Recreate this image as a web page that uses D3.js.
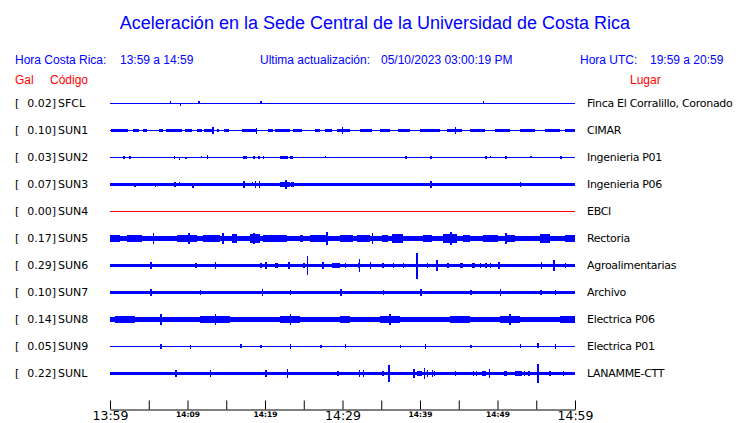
<!DOCTYPE html>
<html><head><meta charset="utf-8">
<script src="https://cdn.jsdelivr.net/npm/d3@7"></script>
<style>body{margin:0;background:#fff}svg{display:block}</style>
</head><body><svg id="c" width="740" height="423"></svg>
<script>
// ---------- data ----------
const codes = ["SFCL","SUN1","SUN2","SUN3","SUN4","SUN5","SUN6","SUN7","SUN8","SUN9","SUNL"];
const galValues = [0.02,0.10,0.03,0.07,0.00,0.17,0.29,0.10,0.14,0.05,0.22];
const places = ["Finca El Corralillo, Coronado","CIMAR","Ingenieria P01","Ingenieria P06","EBCI","Rectoria","Agroalimentarias","Archivo","Electrica P06","Electrica P01","LANAMME-CTT"];
// background noise half-amplitude of each trace (relative units)
const baseAmp = [0,0,0,1.5,0,2.5,1.5,1,2.5,0,1.5];
// bursts: [startMinute, endMinute, halfAmplitude]
const bursts = [
  [],
  [[0.1,2.3,1],[3.0,3.7,1],[4.3,4.8,1],[6.3,6.8,1],[7.2,9.3,1],[9.7,10.6,1],[11.2,11.9,1],[12.1,13.3,1],[13.8,14.1,1],[14.7,15.4,1],[17.0,19.0,1],[20.4,21.0,1],[21.3,23.2,1],[23.6,24.8,1],[26.5,27.1,1],[27.7,28.7,1],[29.3,31.0,1],[32.3,33.8,1],[34.8,36.1,1],[37.2,38.7,1],[40.0,42.6,1],[43.5,45.4,1.5],[46.5,48.4,1],[49.7,51.6,1],[52.9,54.8,1],[56.1,58.1,1],[58.7,60,1]],
  [[1.7,1.9,1],[8.3,8.4,1],[17.2,17.7,1],[18.5,18.7,1],[19.1,19.4,1],[21.9,23.0,1],[23.2,23.6,1]],
  [[21.9,23.2,2.5],[23.4,23.8,2]],
  [],
  [[0,1.3,3.5],[2.2,4.1,3.5],[8.6,11.2,3.5],[12.0,14.2,3.5],[15.7,16.4,4],[18.1,19.4,4],[19.7,22.8,3.5],[24.5,24.9,3.5],[25.8,28.0,3.5],[29.7,31.4,3.5],[31.9,33.5,3.5],[35.1,35.9,3.5],[36.4,37.8,4],[40.4,41.5,3.5],[43.0,44.8,4],[45.5,46.5,3.5],[48.1,50.1,3.5],[51.0,52.3,3.5],[55.5,56.8,4],[58.7,60,3.5]],
  [[19.4,19.6,2],[21.3,21.7,2],[24.9,25.2,2],[28.6,29.7,2],[32.0,32.3,2.5],[45.2,45.5,2],[46.7,47.1,2]],
  [],
  [[0.6,3.2,3.5],[11.6,15.5,3.5],[21.9,24.5,3.5],[29.7,31.0,3.5],[34.8,37.4,3.5],[43.9,46.5,3.5],[50.3,52.9,3.5],[58.1,60,3.5]],
  [],
  [[39.6,40.3,2.5],[50.9,51.2,2],[52.2,53.2,2.5],[53.9,54.2,2.5],[56.7,56.9,2.5],[58.4,58.6,2]]
];
// spikes: [minute, up, down]
const spikes = [
  [[7.7,2,0],[9.0,0,2],[11.4,2,0],[19.4,2,0],[48.1,2,0]],
  [[13.2,3,3],[18.8,2,3],[29.9,3,3],[44.5,3,3]],
  [[2.5,1,1],[8.9,0,1.5],[9.7,0,1],[11.7,1,0],[12.5,1.5,1],[19.7,1,1],[27.7,1,0],[38.1,1,1],[41.3,1,1],[48.4,1,1],[49.0,1,0],[51.0,1,1],[54.2,1,0],[58.1,1,1]],
  [[3.1,1,2],[5.8,0,2],[8.3,2,2],[8.9,2,1],[10.6,0,2.5],[17.2,2.5,2.5],[18.3,2,1],[18.7,2.5,2.5],[19.2,2.5,2.5],[22.6,4,4],[41.3,2.5,2.5],[52.9,2,2]],
  [],
  [[5.5,4.5,4.5],[10.1,5,5],[18.5,5,5],[27.9,5.5,5.5],[43.9,5.5,5.5],[14.5,4.5,4.5],[33.8,4.5,4.5],[51.0,4.5,4.5]],
  [[5.2,2.5,2.5],[11.0,2,2],[13.5,2.5,2.5],[20.0,2.5,2.5],[23.0,3,3],[25.4,9,9],[27.4,3,3],[30.3,2,2],[32.1,6,6],[33.5,2.5,2.5],[35.1,2,2],[36.5,2,2],[37.8,2,2],[39.5,12,12.5],[40.9,2,2],[42.1,5,5],[43.5,2,2],[47.7,2,2],[48.4,2,2],[49.0,2,2],[50.1,2.5,2.5],[55.6,3,3],[57.2,5,5],[58.7,2,2]],
  [[5.2,2.5,2.5],[11.6,2,2],[19.6,2.5,2.5],[23.2,2,2],[29.7,2.5,2.5],[35.2,2,2],[40.0,2.5,2.5],[46.5,2,2],[50.3,2.5,2.5],[55.5,2,2],[57.4,2,2]],
  [[6.5,4.5,4.5],[13.5,4.5,4.5],[23.2,4.5,4.5],[36.0,4.5,4.5],[51.5,4.5,4.5]],
  [[6.5,1.5,1.5],[10.3,1,1.5],[16.8,1.5,1],[19.4,1,1],[23.2,1.5,1.5],[27.1,1,1],[30.3,1.5,1],[37.4,1,1],[40.6,1.5,1.5],[46.5,1,1],[52.9,1.5,1],[55.1,3,1],[57.4,1.5,1.5]],
  [[8.4,2.5,2.5],[12.9,2.5,2.5],[20.0,2.5,2.5],[22.8,4,4],[29.3,2,2],[32.1,3,3],[32.6,2.5,2.5],[35.1,2,2],[35.9,8,8],[39.1,4,4],[40.5,5,5],[40.9,3,3],[41.5,2.5,2.5],[41.8,2,2],[44.5,2,2],[46.8,2,2],[47.2,2,2],[48.0,2,2],[48.3,2,2],[48.9,4,4],[53.4,2,2],[55.1,9,9]]
];
const tickMinutes = [0,5,10,15,20,25,30,35,40,45,50,55,60];
const tickLabels = ["13:59","","14:09","","14:19","","14:29","","14:39","","14:49","","14:59"];
const majorLabels = ["13:59","14:29","14:59"];

// ---------- drawing ----------
const BLUE = "#0000ff", RED = "#ff0000";
const svg = d3.select("#c");
const x = d3.scaleLinear().domain([0,60]).range([110,575]);
const y = d3.scalePoint().domain(codes).range([103,373]);
const amp = d3.scaleLinear().domain([0,13]).range([0,13]);

svg.append("text").attr("x",375).attr("y",29).attr("text-anchor","middle")
  .attr("font-family","Liberation Sans, Arial, sans-serif").attr("font-size",18).attr("fill",BLUE)
  .text("Aceleración en la Sede Central de la Universidad de Costa Rica");

const hdr = [
  [15,64,"Hora Costa Rica:",BLUE],[120,64,"13:59 a 14:59",BLUE],
  [260,64,"Ultima actualización:",BLUE],[381,64,"05/10/2023 03:00:19 PM",BLUE],
  [580,64,"Hora UTC:",BLUE],[650,64,"19:59 a 20:59",BLUE],
  [15,84,"Gal",RED],[50,84,"Código",RED],[630,84,"Lugar",RED]
];
svg.append("g").selectAll("text").data(hdr).join("text")
  .attr("x",d=>d[0]).attr("y",d=>d[1]).attr("fill",d=>d[3])
  .attr("font-family","Liberation Sans, Arial, sans-serif").attr("font-size",12)
  .text(d=>d[2]);

const rows = svg.append("g").selectAll("g").data(codes).join("g")
  .attr("transform",d=>`translate(0,${y(d)})`);

const lab = {"font-family":"DejaVu Sans, sans-serif","font-size":11,"fill":"#000"};
function lbl(sel){ for(const k in lab) sel.attr(k,lab[k]); return sel; }
lbl(rows.append("text").attr("x",15).attr("y",4).text("["));
lbl(rows.append("text").attr("x",56).attr("y",4).attr("text-anchor","end").text((d,i)=>galValues[i].toFixed(2)+"]"));
lbl(rows.append("text").attr("x",58).attr("y",4).text(d=>d));
lbl(rows.append("text").attr("x",587).attr("y",4).attr("letter-spacing",-0.3).text((d,i)=>places[i]));

rows.each(function(code,i){
  const g = d3.select(this).append("g").attr("shape-rendering","crispEdges");
  const col = galValues[i] === 0 ? RED : BLUE;
  const a0 = Math.floor(amp(baseAmp[i]));
  g.append("rect").attr("x",x(0)).attr("width",x(60)-x(0))
    .attr("y",-a0).attr("height",2*a0+1).attr("fill",col);
  g.selectAll("rect.b").data(bursts[i]).join("rect").attr("class","b")
    .attr("x",d=>x(d[0])).attr("width",d=>Math.max(1,x(d[1])-x(d[0])))
    .attr("y",d=>-Math.floor(amp(d[2]))).attr("height",d=>2*Math.floor(amp(d[2]))+1).attr("fill",col);
  g.selectAll("rect.s").data(spikes[i]).join("rect").attr("class","s")
    .attr("x",d=>x(d[0])).attr("width",1.5)
    .attr("y",d=>-Math.round(amp(d[1]))).attr("height",d=>Math.round(amp(d[1]))+Math.round(amp(d[2]))+1).attr("fill",col);
});

const axis = d3.axisBottom(x).tickValues(tickMinutes)
  .tickFormat((d,i)=>tickLabels[i]).tickSizeInner(-9).tickSizeOuter(0).tickPadding(2);
const ax = svg.append("g").attr("transform","translate(0,409.5)").call(axis);
ax.selectAll("text").attr("font-family","DejaVu Sans, sans-serif")
  .each(function(){
    const major = majorLabels.includes(this.textContent);
    d3.select(this).attr("font-size", major ? 12.5 : 7.5).attr("font-weight", major ? "normal" : "bold");
  });
ax.select(".domain").attr("stroke","#000");
ax.selectAll(".tick line").attr("stroke","#000");
</script></body></html>
